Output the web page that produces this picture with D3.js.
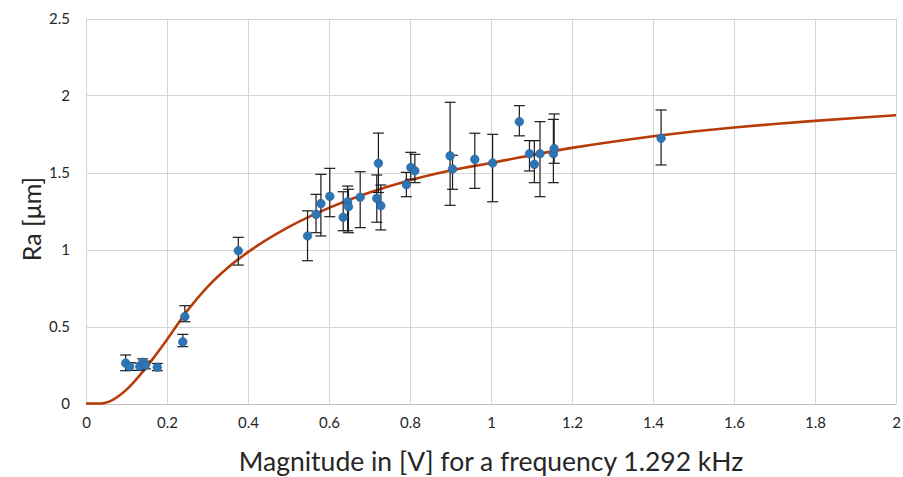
<!DOCTYPE html>
<html>
<head>
<meta charset="utf-8">
<script src="https://cdn.jsdelivr.net/npm/d3@7/dist/d3.min.js"></script>
<style>
  html, body { margin: 0; padding: 0; background: #fff; }
  svg { display: block; }
</style>
</head>
<body>
<svg id="chart" width="903" height="477"></svg>
<script>
// Measured points
const xVals = [0.098, 0.108, 0.133, 0.140, 0.147, 0.176, 0.239, 0.244, 0.376, 0.547, 0.568, 0.580, 0.602, 0.635, 0.646, 0.648, 0.677, 0.718, 0.722, 0.728, 0.791, 0.802, 0.812, 0.899, 0.905, 0.960, 1.004, 1.070, 1.095, 1.107, 1.121, 1.154, 1.156, 1.420];
const yVals = [0.262, 0.240, 0.240, 0.268, 0.250, 0.235, 0.400, 0.564, 0.992, 1.088, 1.228, 1.298, 1.345, 1.209, 1.310, 1.278, 1.339, 1.332, 1.560, 1.284, 1.421, 1.533, 1.511, 1.608, 1.523, 1.585, 1.562, 1.830, 1.622, 1.553, 1.622, 1.622, 1.655, 1.722];
const yLow  = [0.213, 0.215, 0.215, 0.245, 0.225, 0.213, 0.369, 0.531, 0.899, 0.927, 1.109, 1.088, 1.213, 1.122, 1.122, 1.109, 1.142, 1.177, 1.370, 1.127, 1.343, 1.456, 1.434, 1.287, 1.391, 1.397, 1.310, 1.738, 1.510, 1.434, 1.343, 1.434, 1.560, 1.549];
const yHigh = [0.315, 0.265, 0.262, 0.290, 0.275, 0.260, 0.449, 0.635, 1.079, 1.251, 1.358, 1.488, 1.527, 1.375, 1.412, 1.391, 1.505, 1.484, 1.756, 1.419, 1.501, 1.631, 1.618, 1.956, 1.612, 1.755, 1.748, 1.934, 1.707, 1.707, 1.830, 1.845, 1.880, 1.906];

// Fitted curve
const fitX = [0, 0.035, 0.05, 0.065, 0.08, 0.1, 0.13, 0.165, 0.2, 0.25, 0.3, 0.35, 0.4, 0.5, 0.6, 0.7, 0.8, 0.9, 1.0, 1.2, 1.3, 1.4, 1.5, 1.6, 1.7, 1.8, 1.9, 2.0];
const fitY = [0, 0, 0.006, 0.022, 0.047, 0.09, 0.175, 0.29, 0.415, 0.602, 0.758, 0.882, 0.983, 1.145, 1.27, 1.37, 1.45, 1.513, 1.562, 1.66, 1.70, 1.735, 1.766, 1.792, 1.815, 1.835, 1.854, 1.872];

// Ticks
const xTicks = [0, 0.2, 0.4, 0.6, 0.8, 1, 1.2, 1.4, 1.6, 1.8, 2];
const xTickLabels = ["0", "0.2", "0.4", "0.6", "0.8", "1", "1.2", "1.4", "1.6", "1.8", "2"];
const yTicks = [0, 0.5, 1, 1.5, 2, 2.5];
const yTickLabels = ["0", "0.5", "1", "1.5", "2", "2.5"];
const xTitle = "Magnitude in [V] for a frequency 1.292 kHz";
const yTitle = "Ra [\u03bcm]";

(function () {
const svg = d3.select("#chart");
const pLeft = 86, pRight = 896, pTop = 18.5, pBottom = 403.5;
const x = d3.scaleLinear().domain([0, 2]).range([pLeft, pRight]);
const y = d3.scaleLinear().domain([0, 2.5]).range([pBottom, pTop]);
const font = "Lato, 'Open Sans', sans-serif";

// gridlines
const g = svg.append("g");
g.selectAll("line.vg").data(xTicks).enter().append("line")
  .attr("x1", d => Math.round(x(d)) + 0.5).attr("x2", d => Math.round(x(d)) + 0.5)
  .attr("y1", pTop).attr("y2", pBottom)
  .attr("stroke", "#d4d4d4").attr("stroke-width", 1);
g.selectAll("line.hg").data(yTicks).enter().append("line")
  .attr("x1", pLeft).attr("x2", pRight)
  .attr("y1", d => Math.round(y(d)) + 0.5).attr("y2", d => Math.round(y(d)) + 0.5)
  .attr("stroke", d => d === 0 ? "#bfbfbf" : "#d4d4d4").attr("stroke-width", 1);

// axes via d3 (labels only)
const xAxis = d3.axisBottom(x).tickValues(xTicks).tickSize(0).tickPadding(0)
  .tickFormat((d, i) => xTickLabels[i]);
const xa = svg.append("g").attr("transform", `translate(0,${pBottom})`).call(xAxis);
xa.select(".domain").remove();
xa.selectAll("text").attr("font-family", font).attr("font-size", 15).attr("fill", "#262626").attr("dy", "1.6em");

const yAxis = d3.axisLeft(y).tickValues(yTicks).tickSize(0).tickPadding(16)
  .tickFormat((d, i) => yTickLabels[i]);
const ya = svg.append("g").attr("transform", `translate(${pLeft},0)`).call(yAxis);
ya.select(".domain").remove();
ya.selectAll("text").attr("font-family", font).attr("font-size", 15).attr("fill", "#262626");

// fit curve
const pts = fitX.map((d, i) => [d, fitY[i]]);
svg.append("path").datum(pts)
  .attr("d", d3.line().x(d => x(d[0])).y(d => y(d[1])).curve(d3.curveMonotoneX))
  .attr("fill", "none").attr("stroke", "#b83c0a").attr("stroke-width", 2.6);

// error bars
const data = xVals.map((d, i) => ({ x: d, y: yVals[i], lo: yLow[i], hi: yHigh[i] }));
const eb = svg.append("g").attr("stroke", "#1a1a1a").attr("stroke-width", 1.2);
data.forEach(d => {
  const cx = x(d.x);
  eb.append("line").attr("x1", cx).attr("x2", cx).attr("y1", y(d.lo)).attr("y2", y(d.hi));
  eb.append("line").attr("x1", cx - 5.5).attr("x2", cx + 5.5).attr("y1", y(d.lo)).attr("y2", y(d.lo));
  eb.append("line").attr("x1", cx - 5.5).attr("x2", cx + 5.5).attr("y1", y(d.hi)).attr("y2", y(d.hi));
});

// markers
svg.append("g").selectAll("circle").data(data).enter().append("circle")
  .attr("cx", d => x(d.x)).attr("cy", d => y(d.y)).attr("r", 4.3)
  .attr("fill", "#2e75b6").attr("stroke", "#24609a").attr("stroke-width", 0.6);

// titles
svg.append("text").attr("x", 491).attr("y", 471).attr("text-anchor", "middle")
  .attr("font-family", font).attr("font-size", 26.5).attr("fill", "#262626").text(xTitle);
svg.append("text").attr("transform", "translate(41,219) rotate(-90)").attr("text-anchor", "middle")
  .attr("font-family", font).attr("font-size", 25).attr("fill", "#262626").text(yTitle);
})();
</script>
</body>
</html>
